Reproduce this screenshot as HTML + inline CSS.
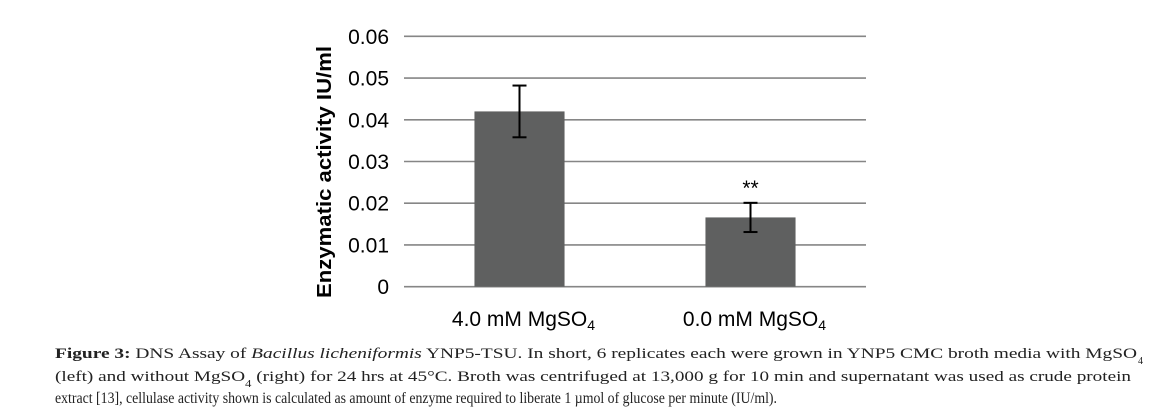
<!DOCTYPE html>
<html><head><meta charset="utf-8"><style>
html,body{margin:0;padding:0;background:#fff;}
svg{display:block;}
</style></head><body>
<svg id="chart" width="1163" height="419" viewBox="0 0 1163 419" xmlns="http://www.w3.org/2000/svg">
<g id="grid"></g>
<g id="bars"></g>
<g id="yticks" font-family="Liberation Sans, sans-serif" font-size="21" fill="#000" text-anchor="end"></g>
<g id="xlabels" font-family="Liberation Sans, sans-serif" font-size="21" fill="#000" text-anchor="middle"></g>
<text transform="translate(331,172) rotate(-90)" text-anchor="middle" font-family="Liberation Sans, sans-serif" font-weight="bold" font-size="20" textLength="252" lengthAdjust="spacingAndGlyphs" fill="#000">Enzymatic activity IU/ml</text>
<g font-family="Liberation Serif, serif" font-size="15" fill="#222">
<text x="55" y="358" textLength="1082" lengthAdjust="spacingAndGlyphs"><tspan font-weight="bold">Figure 3:</tspan> DNS Assay of <tspan font-style="italic">Bacillus licheniformis</tspan> YNP5-TSU. In short, 6 replicates each were grown in YNP5 CMC broth media with MgSO</text>
<text x="1138" y="364" font-size="10">4</text>
<text x="55" y="381" textLength="1076" lengthAdjust="spacingAndGlyphs">(left) and without MgSO<tspan font-size="10" dy="6">4</tspan><tspan dy="-6"> (right) for 24 hrs at 45°C. Broth was centrifuged at 13,000 g for 10 min and supernatant was used as crude protein</tspan></text>
<text x="55" y="403" font-size="15.5" textLength="722" lengthAdjust="spacingAndGlyphs">extract [13], cellulase activity shown is calculated as amount of enzyme required to liberate 1 µmol of glucose per minute (IU/ml).</text>
</g>
</svg>
<script>
const categories = ["4.0 mM MgSO", "0.0 mM MgSO"];
const values = [0.042, 0.0166];
const errors = [0.0062, 0.0035];
const annotations = ["", "**"];
const yTicks = [0, 0.01, 0.02, 0.03, 0.04, 0.05, 0.06];
const yTickLabels = ["0", "0.01", "0.02", "0.03", "0.04", "0.05", "0.06"];

const NS = "http://www.w3.org/2000/svg";
const x0 = 404, x1 = 866, yBase = 286.7, yTop = 36.3, yMax = 0.06;
const yScale = v => yBase - (v / yMax) * (yBase - yTop);
const band = (x1 - x0) / categories.length;
const xCenter = i => x0 + band * (i + 0.5);
const barW = band * 0.39;
function mk(tag, attrs, parent) {
  const e = document.createElementNS(NS, tag);
  for (const k in attrs) e.setAttribute(k, attrs[k]);
  parent.appendChild(e);
  return e;
}
const grid = document.getElementById('grid');
const yt = document.getElementById('yticks');
yTicks.forEach((t, i) => {
  const y = yScale(t);
  const l = mk('line', {x1: x0, x2: x1, y1: y, y2: y, stroke: '#868686', 'stroke-width': 1.6}, grid);
  
  
  const tx = mk('text', {x: 389, y: y + 7.5}, yt);
  tx.textContent = yTickLabels[i];
  
  
});
const bars = document.getElementById('bars');
const xl = document.getElementById('xlabels');
categories.forEach((c, i) => {
  const cx = xCenter(i);
  const yv = yScale(values[i]);
  const r = mk('rect', {x: cx - barW / 2, y: yv, width: barW, height: yBase - yv, fill: '#5f6060'}, bars);
  
  
  const eh = yScale(values[i] + errors[i]), el = yScale(values[i] - errors[i]);
  const g = mk('g', {stroke: '#000', 'stroke-width': 2}, bars);
  
  
  mk('line', {x1: cx, x2: cx, y1: eh, y2: el}, g);
  mk('line', {x1: cx - 7, x2: cx + 7, y1: eh, y2: eh}, g);
  mk('line', {x1: cx - 7, x2: cx + 7, y1: el, y2: el}, g);
  if (annotations[i]) {
    const a = mk('text', {x: cx, y: eh - 8, 'text-anchor': 'middle', 'font-family': 'Liberation Sans, sans-serif', 'font-size': 21}, bars);
    a.textContent = annotations[i];
    
    
  }
  const t = mk('text', {x: cx + 4, y: 326}, xl);
  t.textContent = c;
  const s = mk('tspan', {'font-size': 14, dy: 4}, t);
  s.textContent = '4';
  
  
});
</script>
</body></html>
